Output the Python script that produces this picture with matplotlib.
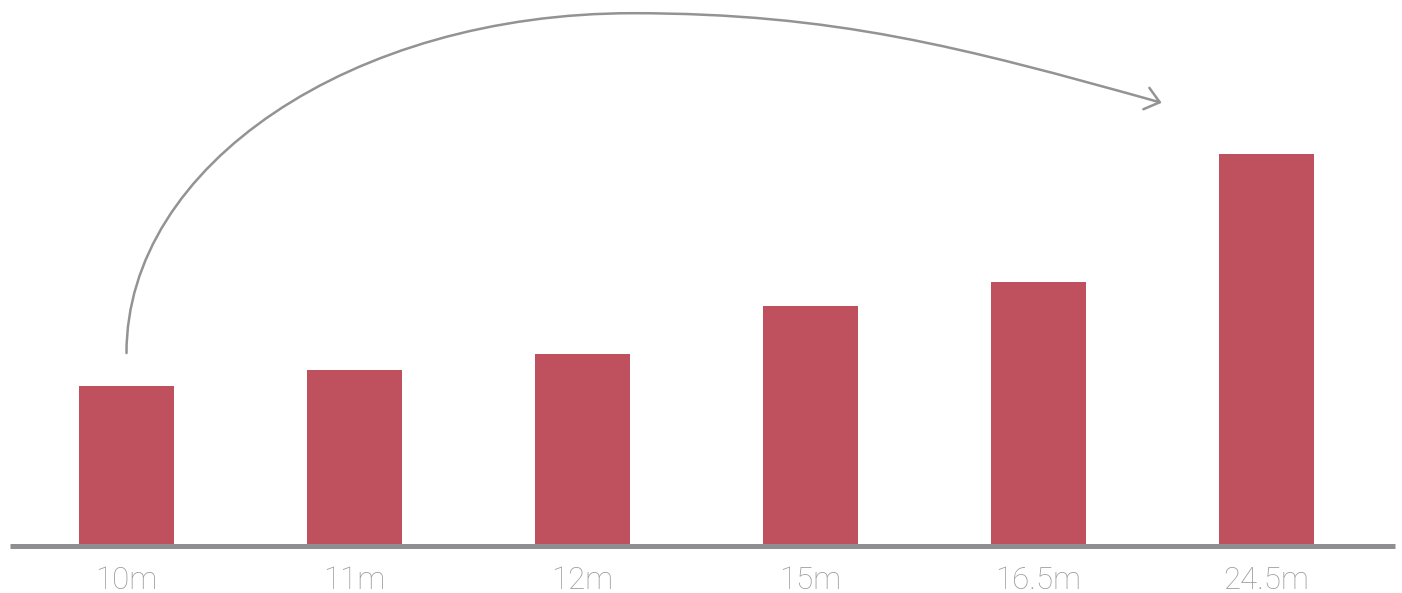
import matplotlib.pyplot as plt
from matplotlib.path import Path
from matplotlib.patches import FancyArrowPatch

labels = ["10m", "11m", "12m", "15m", "16.5m", "24.5m"]
values = [10, 11, 12, 15, 16.5, 24.5]

bar_color = "#bf505d"
line_color = "#8f8e93"
text_color = "#9c9c9c"

fig = plt.figure(figsize=(14.02, 5.93), dpi=100)
ax = fig.add_axes([0, 0, 1, 1])

x = list(range(len(values)))
ax.bar(x, values, width=0.417, color=bar_color, zorder=2)

# baseline across the full width
ax.plot([-0.511, 5.563], [0, 0], color=line_color, lw=3.6,
        solid_capstyle="butt", zorder=3)

for xi, lab in zip(x, labels):
    ax.text(xi, -2.15, lab, ha="center", va="center", fontsize=22.5,
            color=text_color, family="Roboto", fontweight="light")

# curved growth arrow from the first bar to the last
start = (0, values[0] + 2.06)
end = (4.54, values[-1] + 3.2)
verts = [start, (0, 23.8), (0.99, 33.3), (2.22, 33.3),
         (3.10, 33.3), (3.66, 31.2), end]
codes = [Path.MOVETO] + [Path.CURVE4] * 6
arrow = FancyArrowPatch(path=Path(verts, codes),
                        arrowstyle="->,head_length=0.5,head_width=0.4",
                        mutation_scale=20, color="#939393", lw=1.8,
                        zorder=4)
ax.add_patch(arrow)

ax.set_xlim(-0.5548, 5.594)
ax.set_ylim(-2.9375, 34.125)
ax.axis("off")

fig.savefig("out.png", dpi=100)
